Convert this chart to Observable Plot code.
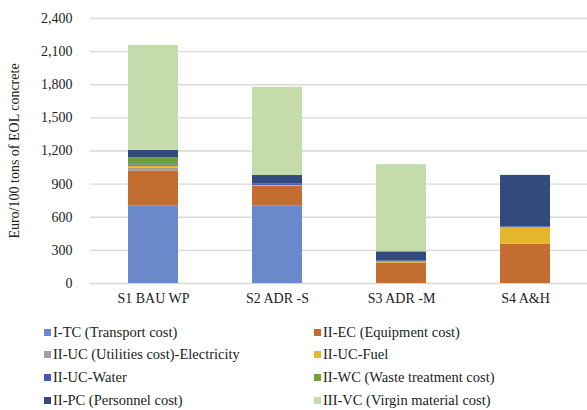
<!DOCTYPE html>
<html>
<head>
<meta charset="utf-8">
<script src="https://cdn.jsdelivr.net/npm/d3@7"></script>
<script src="https://cdn.jsdelivr.net/npm/@observablehq/plot@0.6"></script>
<style>
  html, body { margin: 0; padding: 0; background: #fff; }
  body { width: 587px; height: 410px; overflow: hidden; font-family: "Liberation Serif", "Times New Roman", serif; }
  #chart { position: relative; }
  #chart svg, #chart svg text { font-family: "Liberation Serif", "Times New Roman", serif !important; }
  #legend { position: relative; height: 100px; }
  .item { position: absolute; display: flex; align-items: center; font-size: 14.5px; color: #222; white-space: nowrap; }
  .sw { width: 7px; height: 7px; margin-right: 2px; }
</style>
</head>
<body>
<div id="chart"></div>
<div id="legend"></div>
<script>
const categories = ["S1 BAU WP", "S2 ADR -S", "S3 ADR -M", "S4 A&H"];
const seriesNames = [
  "I-TC (Transport cost)",
  "II-EC (Equipment cost)",
  "II-UC (Utilities cost)-Electricity",
  "II-UC-Fuel",
  "II-UC-Water",
  "II-WC (Waste treatment cost)",
  "II-PC (Personnel cost)",
  "III-VC (Virgin material cost)"
];
const seriesColors = ["#6a89cb", "#c46d30", "#a0a0a0", "#e3b62b", "#4558b8", "#70a03c", "#334a7c", "#c4dbaa"];
const TC    = [700, 700,   0,   0];
const EC    = [320, 179, 185, 355];
const UCE   = [ 27,   0,   0,   0];
const Fuel  = [ 15,   9,  10, 151];
const Water = [ 12,  12,   8,   6];
const WC    = [ 66,   0,   0,   0];
const PC    = [ 66,  78,  84, 467];
const VC    = [949, 799, 789,   0];
const yTicks = [0, 300, 600, 900, 1200, 1500, 1800, 2100, 2400];

const seriesValues = [TC, EC, UCE, Fuel, Water, WC, PC, VC];
const rows = [];
seriesNames.forEach((s, i) => {
  categories.forEach((c, j) => rows.push({category: c, series: s, value: seriesValues[i][j]}));
});

const serif = "'Liberation Serif', 'Times New Roman', serif";
const plot = Plot.plot({
  width: 587,
  height: 310,
  marginLeft: 90,
  marginRight: 0,
  marginTop: 18,
  marginBottom: 27,
  style: "font-family: 'Liberation Serif', 'Times New Roman', serif; font-size: 14px; color: #222; background: #fff;",
  x: {domain: categories, paddingInner: 0.6, paddingOuter: 0.3, label: null},
  y: {domain: [0, 2400], label: null},
  color: {domain: seriesNames, range: seriesColors},
  marks: [
    Plot.gridY(yTicks, {stroke: "#d9d9d9", strokeOpacity: 1, strokeWidth: 1.3}),
    Plot.barY(rows, {x: "category", y: "value", fill: "series", order: seriesNames}),
    Plot.axisY(yTicks, {tickFormat: d3.format(","), label: null, tickSize: 0, tickPadding: 18, fontFamily: serif, fontSize: 14, fill: "#222"}),
    Plot.axisX({label: null, tickSize: 0, tickPadding: 10, fontFamily: serif, fontSize: 14, fill: "#222"}),
    Plot.text(["Euro/100 tons of EOL concrete"], {
      frameAnchor: "left", textAnchor: "middle", dx: -76, rotate: -90, fontSize: 14, fill: "#222", fontFamily: serif
    })
  ]
});
document.getElementById("chart").appendChild(plot);

const legend = document.getElementById("legend");
seriesNames.forEach((s, i) => {
  const col = i % 2, row = Math.floor(i / 2);
  const el = document.createElement("div");
  el.className = "item";
  el.style.left = (col === 0 ? 44 : 314) + "px";
  el.style.top = (13.5 + row * 22.8) + "px";
  const sw = document.createElement("span");
  sw.className = "sw";
  sw.style.background = seriesColors[i];
  el.appendChild(sw);
  el.appendChild(document.createTextNode(s));
  legend.appendChild(el);
});
</script>
</body>
</html>
